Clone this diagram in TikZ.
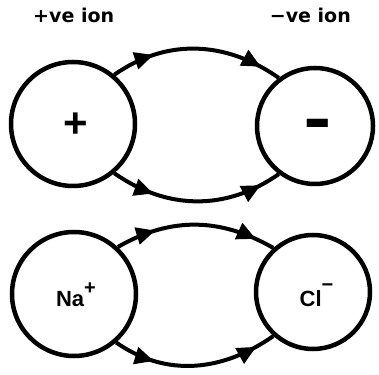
\documentclass[tikz,border=0pt]{standalone}
\usepackage{fontspec}
\setmainfont{Liberation Sans}
\newfontfamily\labfont{DejaVu Sans}
\usetikzlibrary{arrows.meta,decorations.markings}
\begin{document}
\begin{tikzpicture}[x=1pt,y=1pt,
  ion/.style={circle,draw,line width=4.5pt,inner sep=0pt,minimum size=#1},
  bond/.style={line width=4pt,postaction=decorate,decoration={markings,
    mark=at position 0.25 with {\arrow{Triangle[length=19pt,width=17pt]}},
    mark=at position 0.88 with {\arrow{Triangle[length=19pt,width=17pt]}}}},
  toplab/.style={font=\labfont\bfseries\fontsize{19}{19}\selectfont,inner sep=0pt},
  ionname/.style={font=\bfseries\fontsize{22}{22}\selectfont,anchor=base,inner sep=0pt},
  sign/.style={font=\bfseries\fontsize{42}{42}\selectfont,inner sep=0pt}
]
\useasboundingbox (0,0) rectangle (379,374);
% labels
\node[toplab,anchor=base west] (lp) at (33,351.5) {+ve ion};
\node[toplab,anchor=base east] (ln) at (351,351.5) {−ve ion};
% top pair
\node[ion=124pt] (TL) at (73,250) {};
\node[ion=116pt] (TR) at (315,248) {};
\node[sign] (plus) at (76,249) {+};
\node[sign,yscale=1.8] (minus) at (318,240) {−};
% bottom pair
\node[ion=124pt] (BL) at (74,80) {};
\node[ion=114pt] (BR) at (313,82) {};
\node[ionname] (na) at (76,67) {Na\raisebox{12pt}{\fontsize{20}{20}\selectfont +}};
\node[ionname] (cl) at (316.5,67) {Cl\raisebox{15pt}{\fontsize{20}{20}\selectfont −}};
% connectors
\draw[bond] (TL.50) to[out=35,in=145] (TR.127);
\draw[bond] (TL.-50) to[out=-35,in=-145] (TR.-127);
\draw[bond] (BL.47) to[out=30,in=150] (BR.132);
\draw[bond] (BL.-49) to[out=-35,in=-145] (BR.-132);
\end{tikzpicture}
\end{document}
